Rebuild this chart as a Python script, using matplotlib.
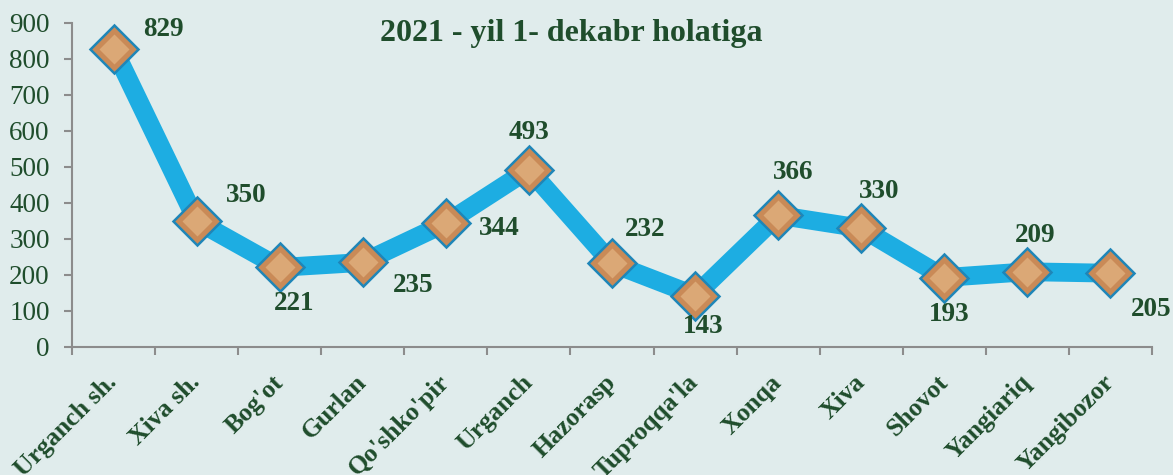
import matplotlib
matplotlib.use("Agg")
import matplotlib.pyplot as plt
import matplotlib.transforms as mtransforms
import numpy as np

# data
districts = ["Urganch sh.", "Xiva sh.", "Bog'ot", "Gurlan", "Qo'shko'pir", "Urganch",
             "Hazorasp", "Tuproqqa'la", "Xonqa", "Xiva", "Shovot", "Yangiariq", "Yangibozor"]
values = [829, 350, 221, 235, 344, 493, 232, 143, 366, 330, 193, 209, 205]
# label offsets in pixels (dx, dy), dy up positive
lbl_dx = [50, 50, 14, 50, 53, 0, 33, 8, 15, 18, 5, 8, 41]
lbl_dy = [19, 25, -36, -23, -5, 37, 34, -31, 43, 37, -37, 36, -36]

title = "2021 - yil 1- dekabr holatiga"

BG = "#e0ecec"
GREEN = "#1f4d2c"
BLUE = "#1dade2"
GRAY = "#8c8c8c"

plt.rcParams["font.family"] = ["Liberation Serif", "DejaVu Serif"]

fig = plt.figure(figsize=(11.73, 4.75), dpi=100, facecolor=BG)
ax = fig.add_axes([72 / 1173, 128 / 475, (1152 - 72) / 1173, 324 / 475])
ax.set_facecolor(BG)

x = np.arange(len(values))
ax.plot(x, values, color=BLUE, lw=13.5, solid_joinstyle="miter", zorder=2)
ax.plot(x, values, ls="none", marker="D", ms=24.5, mfc="#c98a57", mec="#1f86b8", mew=1.8, zorder=3)
ax.plot(x, values, ls="none", marker="D", ms=15, mfc="#e0b07f", mec="none", alpha=0.8, zorder=4)

for xi, v, dx, dy in zip(x, values, lbl_dx, lbl_dy):
    ax.annotate(str(v), (xi, v), xytext=(dx, dy), textcoords="offset pixels",
                ha="center", va="center", fontsize=19.5, fontweight="bold", color=GREEN, zorder=5)

ax.set_xlim(-0.5, len(values) - 0.5)
ax.set_ylim(0, 900)
ax.set_yticks(range(0, 901, 100))

ax.set_xticks(x)
ax.set_xticks(np.arange(-0.5, len(values), 1.0), minor=True)
ax.set_xticklabels(districts, rotation=45, ha="right", va="center", rotation_mode="anchor",
                   fontsize=18.5, fontweight="bold", color=GREEN)
off = mtransforms.ScaledTranslation(10 / 72, 0, fig.dpi_scale_trans)
for lab in ax.get_xticklabels():
    lab.set_transform(lab.get_transform() + off)

ax.tick_params(axis="x", which="major", length=0, pad=23)
ax.tick_params(axis="x", which="minor", length=6, width=1.5, color=GRAY, direction="out")
ax.tick_params(axis="y", length=6, width=1.5, color=GRAY, labelsize=19.5, labelcolor=GREEN, pad=10)

for s in ["top", "right"]:
    ax.spines[s].set_visible(False)
for s in ["left", "bottom"]:
    ax.spines[s].set_color(GRAY)
    ax.spines[s].set_linewidth(1.5)

fig.text(571 / 1173, 1 - 33 / 475, title, ha="center", va="center",
         fontsize=23, fontweight="bold", color=GREEN)

fig.savefig("out.png", dpi=100, facecolor=BG)
